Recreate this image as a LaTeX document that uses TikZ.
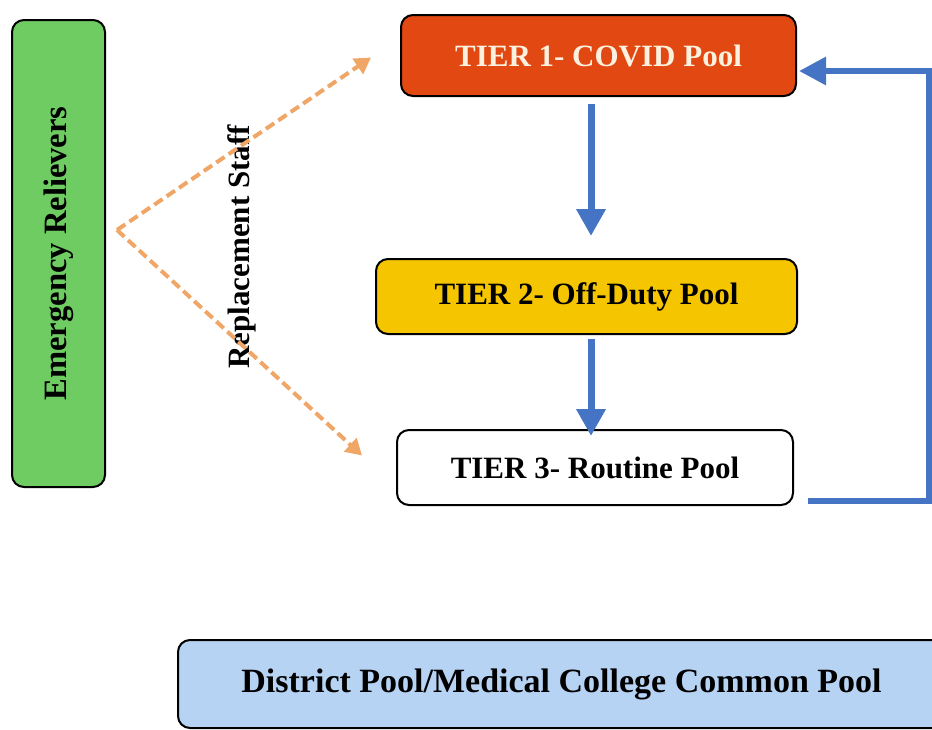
\documentclass[tikz,border=0pt]{standalone}
\usepackage{fontspec}
\setmainfont{Liberation Serif}
\usetikzlibrary{arrows.meta,calc}
\definecolor{relgreen}{RGB}{110,204,98}
\definecolor{tierred}{RGB}{226,72,18}
\definecolor{tiercream}{RGB}{252,240,222}
\definecolor{tieryellow}{RGB}{245,197,0}
\definecolor{poolblue}{RGB}{182,211,243}
\definecolor{flowblue}{RGB}{70,116,196}
\definecolor{staffdash}{RGB}{240,166,102}

\begin{document}
\begin{tikzpicture}[x=.5pt,y=-.5pt]
\tikzset{every node/.style={align=center, rounded corners=6pt, rectangle, draw=black, line width=1pt, inner sep=2pt, font=\bfseries\fontsize{15.5}{18}\selectfont}}
\tikzset{flow/.style={draw=flowblue, line width=3.5pt, -{Triangle[length=13.5pt,width=14pt]}}}
\tikzset{staff/.style={draw=staffdash, line width=2pt, dash pattern=on 5pt off 2.5pt, -{Triangle[length=8pt,width=9pt]}}}
\useasboundingbox (0,0) rectangle (932,729);
%%%%%%
\node(reliever)at(58.5,253.5)[fill=relgreen,minimum width=46.5pt,minimum height=233.5pt]{};
\node[draw=none,rotate=90,font=\bfseries\fontsize{16.3}{18}\selectfont]at(reliever.center){Emergency Relievers};

%%%%%%% tiers
\node(tier1)at(598.5,55.5)[fill=tierred,text=tiercream,minimum width=197.5pt,minimum height=40.5pt]{TIER 1- COVID Pool};
\node(tier2)at(586.5,296.5)[fill=tieryellow,minimum width=210.5pt,minimum height=37.5pt]{TIER 2- Off-Duty Pool};
\node(tier3)at(595,467.5)[fill=white,minimum width=198pt,minimum height=37.5pt]{TIER 3- Routine Pool};

%%%%%%% common pool
\node(common)at(561.5,684)[fill=poolblue,minimum width=383.5pt,minimum height=44pt,font=\bfseries\fontsize{17}{18}\selectfont]{District Pool/Medical College Common Pool};

%%%%%%% replacement staff
\coordinate(split)at(117,230);
\node(replace)at(242,247)[draw=none,rotate=90]{Replacement Staff};
\draw[staff] (split) -- ([xshift=-14.5pt,yshift=-1pt]tier1.west);
\draw[staff] (split) -- ([xshift=-17pt,yshift=6pt]tier3.west);

%%%%%%% flow
\draw[flow] ([xshift=-3.75pt,yshift=-3.5pt]tier1.south) -- ([xshift=2.25pt,yshift=11pt]tier2.north);
\draw[flow] ([xshift=2.25pt,yshift=-2pt]tier2.south) -- ([xshift=-2pt,yshift=-3.5pt]tier3.north);
\draw[flow,line width=3pt,-{Triangle[length=13.5pt,width=13.5pt]}] ([xshift=7pt,yshift=2.5pt]tier3.south east) -- ++(121,0) |- ([xshift=1pt,yshift=-7.75pt]tier1.east);
\end{tikzpicture}
\end{document}
